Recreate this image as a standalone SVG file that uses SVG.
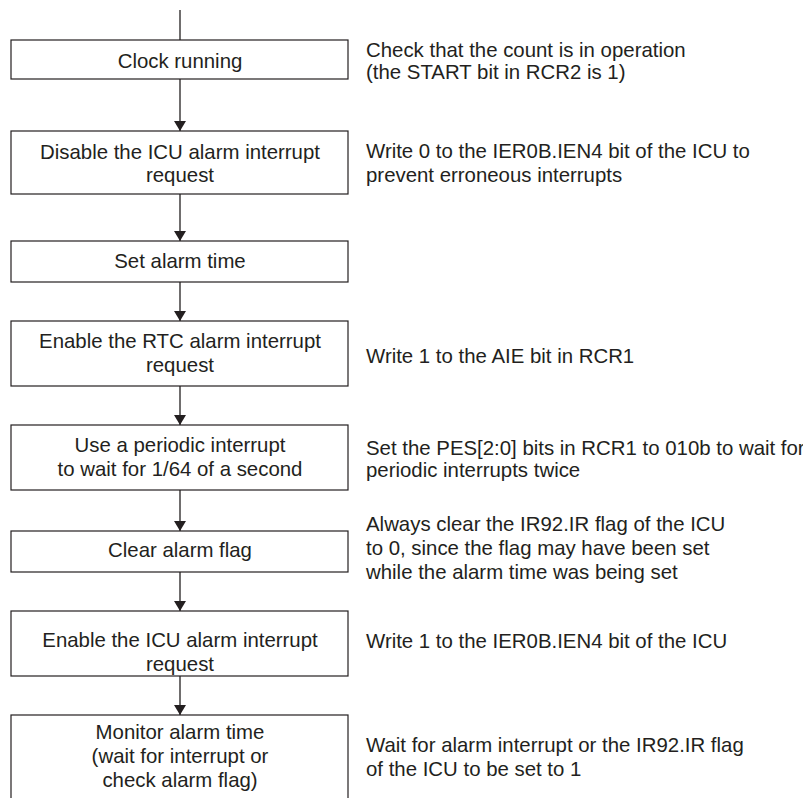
<svg xmlns="http://www.w3.org/2000/svg" width="803" height="798" viewBox="0 0 803 798">
<defs>
<style>
.box{fill:#fff;stroke:#231f20;stroke-width:1.2}
.t{font-family:"Liberation Sans",Arial,sans-serif;font-size:20.4px;fill:#231f20}
.c{text-anchor:middle}
.ln{stroke:#231f20;stroke-width:1.3;fill:none}
</style>
<marker id="ah" markerUnits="userSpaceOnUse" markerWidth="10" markerHeight="12" refX="10" refY="6" orient="auto" viewBox="0 0 10 12">
<path d="M0,0 L10,6 L0,12 z" fill="#231f20"/>
</marker>
</defs>
<rect width="803" height="798" fill="#fff"/>
<g id="connectors">
<line class="ln" x1="180" y1="10" x2="180" y2="40"/>
<line class="ln" x1="180" y1="79" x2="180" y2="131" marker-end="url(#ah)"/>
<line class="ln" x1="180" y1="194" x2="180" y2="241" marker-end="url(#ah)"/>
<line class="ln" x1="180" y1="282" x2="180" y2="321" marker-end="url(#ah)"/>
<line class="ln" x1="180" y1="386" x2="180" y2="425" marker-end="url(#ah)"/>
<line class="ln" x1="180" y1="490" x2="180" y2="531" marker-end="url(#ah)"/>
<line class="ln" x1="180" y1="572" x2="180" y2="611" marker-end="url(#ah)"/>
<line class="ln" x1="180" y1="676" x2="180" y2="715" marker-end="url(#ah)"/>
</g>
<g id="n1">
<rect class="box" x="11" y="40" width="337" height="39"/>
<text class="t c" x="180" y="68">Clock running</text>
</g>
<g id="n2">
<rect class="box" x="11" y="131" width="337" height="63"/>
<text class="t c" x="180" y="159">Disable the ICU alarm interrupt</text>
<text class="t c" x="180" y="182">request</text>
</g>
<g id="n3">
<rect class="box" x="11" y="241" width="337" height="41"/>
<text class="t c" x="180" y="268">Set alarm time</text>
</g>
<g id="n4">
<rect class="box" x="11" y="321" width="337" height="65"/>
<text class="t c" x="180" y="348">Enable the RTC alarm interrupt</text>
<text class="t c" x="180" y="372">request</text>
</g>
<g id="n5">
<rect class="box" x="11" y="425" width="337" height="65"/>
<text class="t c" x="180" y="452">Use a periodic interrupt</text>
<text class="t c" x="180" y="476">to wait for 1/64 of a second</text>
</g>
<g id="n6">
<rect class="box" x="11" y="531" width="337" height="41"/>
<text class="t c" x="180" y="557">Clear alarm flag</text>
</g>
<g id="n7">
<rect class="box" x="11" y="611" width="337" height="65"/>
<text class="t c" x="180" y="647">Enable the ICU alarm interrupt</text>
<text class="t c" x="180" y="671">request</text>
</g>
<g id="n8">
<rect class="box" x="11" y="715" width="337" height="95"/>
<text class="t c" x="180" y="739">Monitor alarm time</text>
<text class="t c" x="180" y="763">(wait for interrupt or</text>
<text class="t c" x="180" y="787">check alarm flag)</text>
</g>
<g id="notes">
<text class="t" x="366" y="57">Check that the count is in operation</text>
<text class="t" x="366" y="79">(the START bit in RCR2 is 1)</text>
<text class="t" x="366" y="158">Write 0 to the IER0B.IEN4 bit of the ICU to</text>
<text class="t" x="366" y="182">prevent erroneous interrupts</text>
<text class="t" x="366" y="363">Write 1 to the AIE bit in RCR1</text>
<text class="t" x="366" y="455">Set the PES[2:0] bits in RCR1 to 010b to wait for</text>
<text class="t" x="366" y="477">periodic interrupts twice</text>
<text class="t" x="366" y="531">Always clear the IR92.IR flag of the ICU</text>
<text class="t" x="366" y="555">to 0, since the flag may have been set</text>
<text class="t" x="366" y="579">while the alarm time was being set</text>
<text class="t" x="366" y="648">Write 1 to the IER0B.IEN4 bit of the ICU</text>
<text class="t" x="366" y="752">Wait for alarm interrupt or the IR92.IR flag</text>
<text class="t" x="366" y="776">of the ICU to be set to 1</text>
</g>
</svg>
